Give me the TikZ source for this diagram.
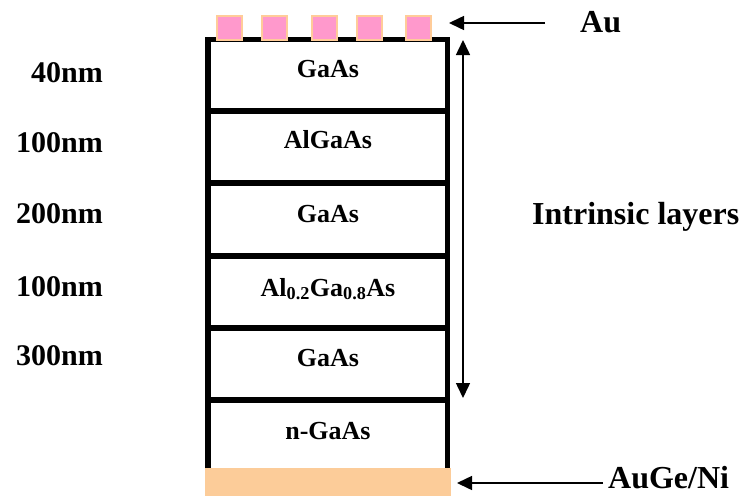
\documentclass[tikz,border=0pt]{standalone}
\usepackage{fontspec}
\setmainfont{Liberation Serif}
\usetikzlibrary{arrows.meta}
\definecolor{aupink}{RGB}{255,153,204}
\definecolor{auedge}{RGB}{255,204,153}
\definecolor{augeni}{RGB}{252,204,153}
\tikzset{
  layerline/.style={line width=5.5pt},
  boxlabel/.style={anchor=base, font=\bfseries\fontsize{26}{26}\selectfont, inner sep=0pt},
  sidelabel/.style={anchor=base east, font=\bfseries\fontsize{30}{30}\selectfont, inner sep=0pt},
  biglabel/.style={anchor=base west, font=\bfseries\fontsize{32}{32}\selectfont, inner sep=0pt},
  contact/.style={fill=aupink, draw=auedge, line width=2pt},
  pointer/.style={line width=1.5pt, -{Triangle[length=15pt,width=14pt]}},
}
\begin{document}
\begin{tikzpicture}[x=1pt,y=-1pt]
\useasboundingbox (0,0) rectangle (739,496);
% substrate contact
\fill[augeni] (205,468) rectangle (451,496);
% box
\draw[layerline] (208,468) -- (208,39.5) -- (447.5,39.5) -- (447.5,468);
\foreach \yy in {111,183,256,328,400}
  \draw[layerline] (208,\yy) -- (447.5,\yy);
% Au contacts
\foreach \xx in {229.7,274,324,369.7,418}
  \draw[contact] (\xx-12.5,16) rectangle (\xx+12.5,39.5);
% layer labels
\node[boxlabel] (l1) at (328,77) {GaAs};
\node[boxlabel] (l2) at (328,148) {AlGaAs};
\node[boxlabel] (l3) at (328,222) {GaAs};
\node[boxlabel] (l4) at (328,296) {Al\textsubscript{0.2}Ga\textsubscript{0.8}As};
\node[boxlabel] (l5) at (328,366) {GaAs};
\node[boxlabel] (l6) at (328,439) {n-GaAs};
% thickness labels
\node[sidelabel] (t1) at (103,82) {40nm};
\node[sidelabel] (t2) at (103,152) {100nm};
\node[sidelabel] (t3) at (103,223) {200nm};
\node[sidelabel] (t4) at (103,296) {100nm};
\node[sidelabel] (t5) at (103,365) {300nm};
% right labels
\node[biglabel] (au) at (580,32) {Au};
\node[biglabel] (intr) at (532,224) {Intrinsic layers};
\node[biglabel] (ni) at (608,488) {AuGe/Ni};
% arrows
\coordinate (aus) at (545,23);
\coordinate (aue) at (449,23);
\draw[pointer] (aus) -- (aue);
\coordinate (it) at (463,40);
\coordinate (ib) at (463,398);
\draw[pointer, {Triangle[length=15pt,width=14pt]}-{Triangle[length=15pt,width=14pt]}] (it) -- (ib);
\coordinate (nis) at (603,483);
\coordinate (nie) at (457,483);
\draw[pointer] (nis) -- (nie);
\end{tikzpicture}
\end{document}
